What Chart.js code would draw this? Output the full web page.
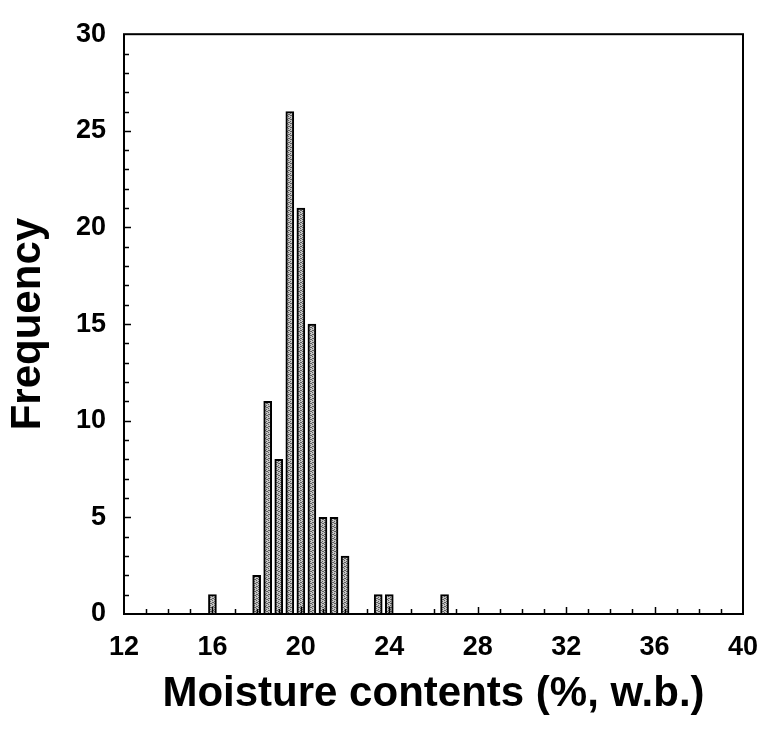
<!DOCTYPE html>
<html>
<head>
<meta charset="utf-8">
<script src="https://cdn.jsdelivr.net/npm/chart.js@4/dist/chart.umd.min.js"></script>
<style>
  html, body { margin: 0; padding: 0; background: #fff; }
  #wrap { width: 764px; height: 730px; }
</style>
</head>
<body>
<div id="wrap"><canvas id="histChart" width="764" height="730"></canvas></div>
<script>
// moisture content bins (% w.b.) and how many samples fell in each
const moistureBins = [16, 18, 18.5, 19, 19.5, 20, 20.5, 21, 21.5, 22, 23.5, 24, 26.5];
const binCounts    = [1, 2, 11, 8, 26, 21, 15, 5, 5, 3, 1, 1, 1];

const xMin = 12, xMax = 40, xStep = 4;
const yMin = 0, yMax = 30, yStep = 5;

const FONT = "'Liberation Sans', Arial, Helvetica, sans-serif";

// stippled grey fill for the bars
function stipple() {
  const c = document.createElement("canvas");
  c.width = 4; c.height = 4;
  const g = c.getContext("2d");
  g.fillStyle = "#c4c4c4";
  g.fillRect(0, 0, 4, 4);
  g.fillStyle = "#5e5e5e";
  [[0, 0], [2, 1], [1, 2], [3, 3], [2, 3], [0, 2]].forEach(([x, y]) => g.fillRect(x, y, 1, 1));
  return g.createPattern(c, "repeat");
}

// frame round the plot plus inward-pointing ticks (minor every 1 unit)
const frameTicks = {
  id: "frameTicks",
  afterDatasetsDraw(chart) {
    const { ctx, chartArea: a, scales: { x, y } } = chart;
    ctx.save();
    ctx.strokeStyle = "#000";
    ctx.lineWidth = 1.5;
    for (let v = xMin + 1; v < xMax; v++) {
      const px = Math.round(x.getPixelForValue(v)) + 0.5;
      const len = v % xStep === 0 ? 7 : 5;
      ctx.beginPath();
      ctx.moveTo(px, a.bottom);
      ctx.lineTo(px, a.bottom - len);
      ctx.stroke();
    }
    for (let v = yMin + 1; v < yMax; v++) {
      const py = Math.round(y.getPixelForValue(v)) + 0.5;
      const len = v % yStep === 0 ? 7 : 5;
      ctx.beginPath();
      ctx.moveTo(a.left, py);
      ctx.lineTo(a.left + len, py);
      ctx.stroke();
    }
    ctx.lineWidth = 2;
    ctx.strokeRect(a.left, a.top, a.right - a.left, a.bottom - a.top);
    ctx.restore();
  }
};

const ctx = document.getElementById("histChart").getContext("2d");
new Chart(ctx, {
  type: "bar",
  data: {
    datasets: [{
      data: moistureBins.map((b, i) => ({ x: b, y: binCounts[i] })),
      backgroundColor: stipple(),
      borderColor: "#000",
      borderWidth: 2,
      borderSkipped: "bottom",
      barThickness: 8
    }]
  },
  options: {
    responsive: false,
    animation: false,
    layout: { padding: { top: 15, right: 21, left: 0, bottom: 0 } },
    plugins: { legend: { display: false }, tooltip: { enabled: false } },
    scales: {
      x: {
        type: "linear",
        offset: false,
        min: xMin,
        max: xMax,
        grid: { display: false, drawTicks: false },
        border: { display: false },
        ticks: {
          stepSize: xStep,
          padding: 17,
          color: "#000",
          font: { family: FONT, size: 27, weight: "bold" }
        },
        title: {
          display: true,
          text: "Moisture contents (%, w.b.)",
          color: "#000",
          font: { family: FONT, size: 42, weight: "bold" },
          padding: { top: 0, bottom: 10 }
        },
        afterFit(scale) {
          scale.height = 116;
          // "40" may hang past the frame; the right margin already covers it
          scale.paddingLeft = 0;
          scale.paddingRight = 0;
        }
      },
      y: {
        min: yMin,
        max: yMax,
        grid: { display: false, drawTicks: false },
        border: { display: false },
        ticks: {
          stepSize: yStep,
          padding: 18,
          color: "#000",
          font: { family: FONT, size: 27, weight: "bold" }
        },
        title: {
          display: true,
          text: "Frequency",
          color: "#000",
          font: { family: FONT, size: 42, weight: "bold" },
          padding: { top: 3, bottom: 0 }
        },
        afterFit(scale) { scale.width = 124; }
      }
    }
  },
  plugins: [frameTicks]
});
</script>
</body>
</html>
